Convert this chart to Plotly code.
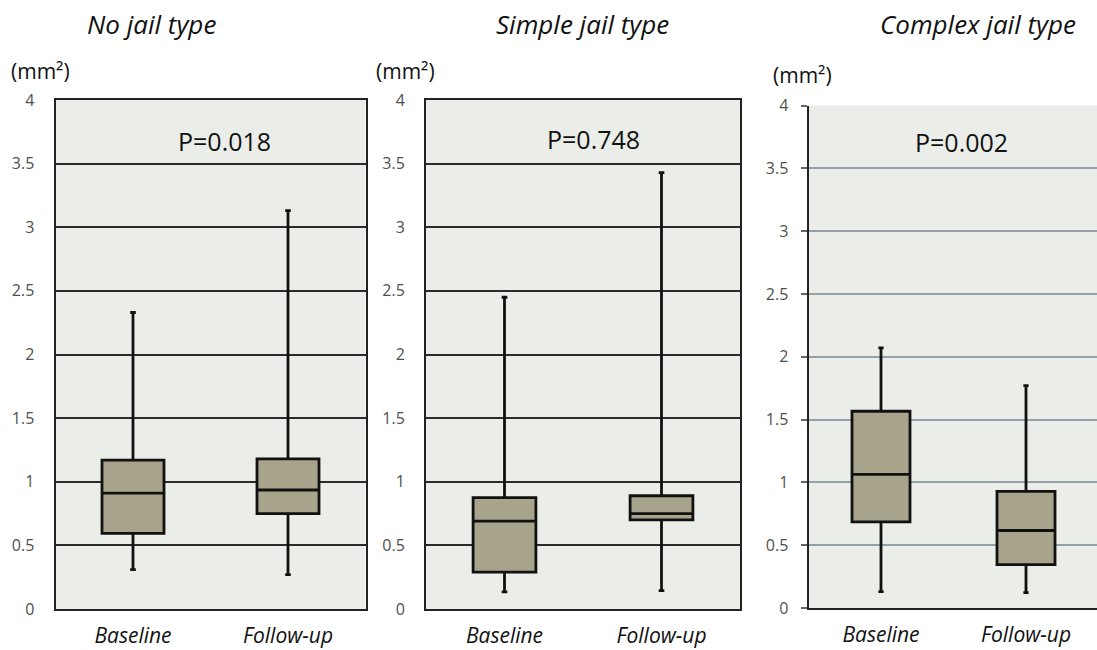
import plotly.graph_objects as go

W, H = 1097, 650

categories = ["Baseline", "Follow-up"]
panel_titles = ["No jail type", "Simple jail type", "Complex jail type"]
p_values = ["P=0.018", "P=0.748", "P=0.002"]
y_tick_vals = [0, 0.5, 1, 1.5, 2, 2.5, 3, 3.5, 4]
y_tick_text = ["0", "0.5", "1", "1.5", "2", "2.5", "3", "3.5", "4"]

# box statistics per panel: [Baseline, Follow-up]
no_lower = [0.31, 0.27]
no_q1 = [0.595, 0.75]
no_median = [0.91, 0.935]
no_q3 = [1.17, 1.18]
no_upper = [2.33, 3.13]

simple_lower = [0.135, 0.145]
simple_q1 = [0.29, 0.70]
simple_median = [0.69, 0.75]
simple_q3 = [0.875, 0.89]
simple_upper = [2.45, 3.43]

complex_lower = [0.13, 0.123]
complex_q1 = [0.686, 0.346]
complex_median = [1.064, 0.617]
complex_q3 = [1.566, 0.928]
complex_upper = [2.07, 1.77]

panels = [
    (no_lower, no_q1, no_median, no_q3, no_upper),
    (simple_lower, simple_q1, simple_median, simple_q3, simple_upper),
    (complex_lower, complex_q1, complex_median, complex_q3, complex_upper),
]

# pixel layout of plot areas (left, right, top, bottom)
px = [(55.5, 365.5, 100, 609), (426, 740, 100, 609), (808.5, 1097, 105.5, 608)]
full_w = [310, 314, 290]

FONT = "Open Sans"
BOX_FILL = "#a8a48c"
PLOT_BG = "#eaede8"

fig = go.Figure()
for i, (lo, q1, med, q3, up) in enumerate(panels):
    n = "" if i == 0 else str(i + 1)
    fig.add_trace(go.Box(
        x=categories, q1=q1, median=med, q3=q3,
        lowerfence=lo, upperfence=up,
        width=0.4, whiskerwidth=0.09,
        fillcolor=BOX_FILL,
        line=dict(color="#111111", width=2.8),
        boxpoints=False, showlegend=False, hoverinfo="skip",
        xaxis="x" + n, yaxis="y" + n,
    ))

layout = dict(
    width=W, height=H,
    autosize=False,
    margin=dict(l=0, r=0, t=0, b=0, pad=0),
    paper_bgcolor="white",
    plot_bgcolor=PLOT_BG,
    showlegend=False,
)

for i in range(3):
    l, r, t, b = px[i]
    n = "" if i == 0 else str(i + 1)
    xr_end = -0.5 + 2 * (r - l) / full_w[i]
    third = i == 2
    grid_col = "#93a1ab" if third else "#2b2b2b"
    layout["xaxis" + n] = dict(
        domain=[l / W, min(r / W, 1.0)],
        range=[-0.5, xr_end],
        type="category",
        anchor="y" + n,
        showgrid=False,
        showline=True, linecolor="#222222", linewidth=2,
        mirror=not third,
        ticks="", ticklabelstandoff=7,
        automargin=False,
        tickfont=dict(family=FONT, size=21, color="#111111", style="italic"),
        fixedrange=True,
    )
    layout["yaxis" + n] = dict(
        domain=[(H - b) / H, (H - t) / H],
        range=[0, 4],
        anchor="x" + n,
        tickmode="array", tickvals=y_tick_vals, ticktext=y_tick_text,
        showgrid=True, gridcolor=grid_col, gridwidth=2 if not third else 1.5,
        zeroline=False,
        showline=True, linecolor="#222222", linewidth=2,
        mirror=not third,
        ticks="outside" if third else "", ticklen=6, tickcolor="#666666", tickwidth=1.5,
        ticklabelstandoff=9 if third else 16,
        automargin=False,
        tickfont=dict(family=FONT, size=16, color="#505050"),
        fixedrange=True,
    )

fig.update_layout(**layout)

# title positions (pixel centers)
title_x = [151, 582, 978]
title_y = [24, 24, 24]
unit_x = [9, 374, 771]
unit_y = [71, 71, 75]
p_x = [224, 593, 962]
p_y = [141, 139, 142]

for i in range(3):
    fig.add_annotation(
        x=title_x[i] / W, y=1 - title_y[i] / H, xref="paper", yref="paper",
        text=panel_titles[i], showarrow=False, xanchor="center", yanchor="middle",
        font=dict(family=FONT, size=26, color="#111111", style="italic"),
    )
    fig.add_annotation(
        x=unit_x[i] / W, y=1 - unit_y[i] / H, xref="paper", yref="paper",
        text="(mm²)", showarrow=False, xanchor="left", yanchor="middle",
        font=dict(family=FONT, size=21, color="#111111"),
    )
    fig.add_annotation(
        x=p_x[i] / W, y=1 - p_y[i] / H, xref="paper", yref="paper",
        text=p_values[i], showarrow=False, xanchor="center", yanchor="middle",
        font=dict(family=FONT, size=25, color="#111111"),
    )

fig.write_html(
    "out.html",
    config={"displayModeBar": False},
    post_script="document.body.style.margin='0';document.body.style.overflow='hidden';",
)
